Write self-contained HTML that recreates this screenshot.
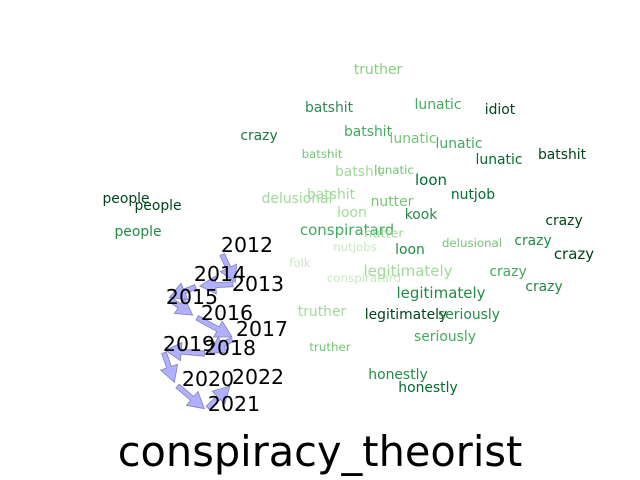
<!DOCTYPE html>
<html><head><meta charset="utf-8"><style>
html,body{margin:0;padding:0;background:#fff;}
svg{display:block;font-family:"DejaVu Sans","Liberation Sans",sans-serif;}
</style></head><body>
<svg id="chart" width="640" height="480" viewBox="0 0 640 480">
<rect width="640" height="480" fill="#fff"/>
<g id="words"></g>
<g id="arrows"></g>
<g id="years"></g>
<text x="320" y="466" text-anchor="middle" font-size="41.5" fill="#000">conspiracy_theorist</text>
</svg>
<script>
const words = ["truther","batshit","lunatic","idiot","crazy","batshit","lunatic","lunatic","lunatic","batshit","batshit","batshit","lunatic","loon","people","people","nutjob","delusional","batshit","nutter","loon","kook","people","crazy","conspiratard","nutter","nutjobs","loon","delusional","crazy","crazy","folk","conspiratard","legitimately","crazy","crazy","legitimately","truther","legitimately","seriously","seriously","truther","honestly","honestly"];
const wordX = [378,329,438,500,259,368,413,459,499,562,322,359,394,431,126,158,473,297,331,392,352,421,138,564,347,384,355,410,472,533,574,300,364,408,508,544,441,322,406,469,445,330,398,428];
const wordY = [70,108,105,110,136,132,139,144,160,155,154,172,170,180,199,206,195,199,195,202,213,215,232,221,230,234,247,250,243,241,254,263,278,271,272,287,293,312,315,315,337,347,375,388];
const wordSize = [13,13,13,13,13,13,13,13,13,13,11,13,11,14,13,13,13,13,13,13,13,13,13,13,14,12,11,13,11,13,14,11,11,14,13,13,14,13,13,13,13,11,13,13];
const wordColor = ["#86d07e","#2e8b4f","#41ab5d","#00441b","#1a7a3e","#41ab5d","#74c476","#41ab5d","#006d2c","#00441b","#74c476","#a1d99b","#74c476","#006d2c","#00441b","#00441b","#006d2c","#a1d99b","#a1d99b","#74c476","#a1d99b","#238b45","#238b45","#00441b","#41ab5d","#a1d99b","#c7e9c0","#238b45","#74c476","#238b45","#00441b","#c7e9c0","#c7e9c0","#a1d99b","#41ab5d","#238b45","#238b45","#a1d99b","#00441b","#238b45","#41ab5d","#74c476","#238b45","#006d2c"];
const years = ["2012","2013","2014","2015","2016","2017","2018","2019","2020","2021","2022"];
const pointX = [221,236,198,168,194,234,208,163,175,206,231];
const pointY = [252,284,286,298,316,338,354,350,384,410,385];
const labelX = [247,258,220,192,227,262,230,189,208,234,258];
const labelY = [245,284,274,297,313,329,348,344,379,404,377];
const NS="http://www.w3.org/2000/svg";
const gw=document.getElementById('words');
words.forEach((w,i)=>{
  const t=document.createElementNS(NS,'text');
  t.setAttribute('x',wordX[i]);t.setAttribute('y',wordY[i]);
  t.setAttribute('text-anchor','middle');t.setAttribute('dominant-baseline','central');
  t.setAttribute('font-size',(wordSize[i]*1.07).toFixed(1));t.setAttribute('fill',wordColor[i]);
  t.textContent=w;
  
  
  gw.appendChild(t);
});
const ga=document.getElementById('arrows');
for(let i=0;i<years.length-1;i++){
  let x0=pointX[i],y0=pointY[i],x1=pointX[i+1],y1=pointY[i+1];
  const dx=x1-x0,dy=y1-y0,L=Math.hypot(dx,dy),ux=dx/L,uy=dy/L,nx=-uy,ny=ux;
  const s0=L*0.08,s1=L*0.05;
  x0+=ux*s0;y0+=uy*s0;x1-=ux*s1;y1-=uy*s1;
  const L2=L-s0-s1;
  const hl=Math.min(16,L2*0.6),hw=9,sw=2.5;
  const bx=x1-ux*hl,by=y1-uy*hl;
  const pts=[[x0+nx*sw,y0+ny*sw],[bx+nx*sw,by+ny*sw],[bx+nx*hw,by+ny*hw],[x1,y1],[bx-nx*hw,by-ny*hw],[bx-nx*sw,by-ny*sw],[x0-nx*sw,y0-ny*sw]];
  const p=document.createElementNS(NS,'polygon');
  p.setAttribute('points',pts.map(q=>q[0].toFixed(1)+','+q[1].toFixed(1)).join(' '));
  p.setAttribute('fill','#b0b0ff');p.setAttribute('stroke','#8080b8');p.setAttribute('stroke-width','0.8');
  
  
  ga.appendChild(p);
}
const gy=document.getElementById('years');
years.forEach((y,i)=>{
  const t=document.createElementNS(NS,'text');
  t.setAttribute('x',labelX[i]);t.setAttribute('y',labelY[i]);
  t.setAttribute('text-anchor','middle');t.setAttribute('dominant-baseline','central');
  t.setAttribute('font-size','20.5');t.setAttribute('fill','#000');
  t.textContent=y;
  
  
  gy.appendChild(t);
});
</script>
</body></html>
